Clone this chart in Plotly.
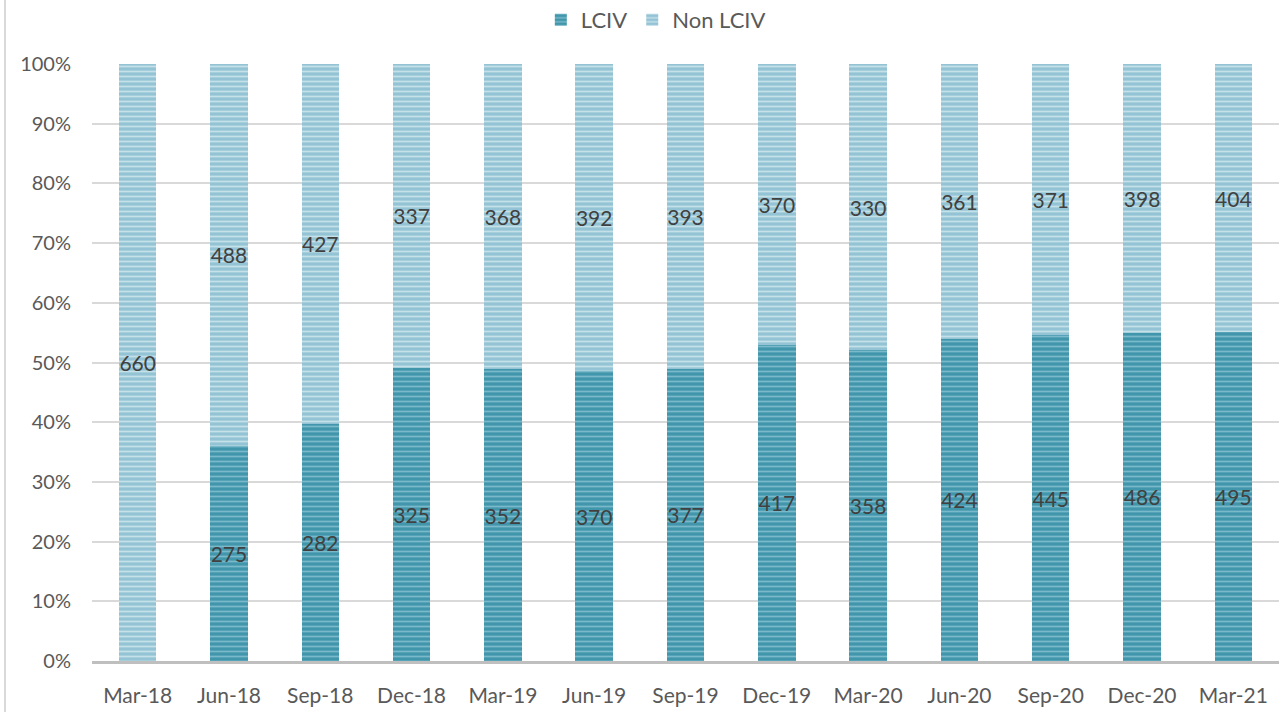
import plotly.graph_objects as go

categories = ["Mar-18", "Jun-18", "Sep-18", "Dec-18", "Mar-19", "Jun-19", "Sep-19",
              "Dec-19", "Mar-20", "Jun-20", "Sep-20", "Dec-20", "Mar-21"]
lciv = [0, 275, 282, 325, 352, 370, 377, 417, 358, 424, 445, 486, 495]
non_lciv = [660, 488, 427, 337, 368, 392, 393, 370, 330, 361, 371, 398, 404]

font_family = "Lato, 'Open Sans', sans-serif"

def labels(vals):
    return [str(v) if v else "" for v in vals]

fig = go.Figure()
fig.add_trace(go.Bar(
    name="LCIV", x=categories, y=lciv, text=labels(lciv),
    marker=dict(color="#4196ac", line=dict(width=0),
                pattern=dict(shape="-", fgcolor="#9fd0de", fgopacity=0.6, size=5, solidity=0.35)),
))
fig.add_trace(go.Bar(
    name="Non LCIV", x=categories, y=non_lciv, text=labels(non_lciv),
    marker=dict(color="#93c3d4", line=dict(width=0),
                pattern=dict(shape="-", fgcolor="#e0f0f5", fgopacity=0.65, size=5, solidity=0.35)),
))
fig.update_traces(textposition="inside", insidetextanchor="middle", textangle=0,
                  constraintext="none", cliponaxis=False,
                  textfont=dict(family=font_family, size=21, color="#404040"),
                  hoverinfo="skip")

fig.update_layout(
    barmode="stack", barnorm="percent", bargap=0.59,
    width=1283, height=712,
    margin=dict(l=92, r=4, t=64, b=51, autoexpand=False),
    paper_bgcolor="white", plot_bgcolor="white",
    font=dict(family=font_family, size=20, color="#595959"),
    legend=dict(orientation="h", x=0.475, xanchor="center", y=1.0737, yanchor="middle",
                yref="paper", font=dict(size=22, color="#595959"),
                itemwidth=30, traceorder="normal", bgcolor="rgba(0,0,0,0)"),
    showlegend=True,
)
fig.update_yaxes(range=[0, 100], dtick=10, ticksuffix="%", showgrid=True,
                 gridcolor="#d9d9d9", gridwidth=2, zeroline=False, automargin=False,
                 ticks="", ticklabelstandoff=20, tickfont=dict(size=20, color="#595959"),
                 showline=False)
fig.update_xaxes(showline=True, linecolor="#bfbfbf", linewidth=3, ticks="", automargin=False,
                 tickfont=dict(size=21, color="#595959"), ticklabelstandoff=14)
fig.add_shape(type="line", xref="paper", yref="paper", x0=-0.0733, x1=-0.0733, y0=-0.1, y1=1.12,
              line=dict(color="#d9d9d9", width=2))

fig.write_html("out.html", config={"displayModeBar": False},
               post_script="document.body.style.margin='0';")
